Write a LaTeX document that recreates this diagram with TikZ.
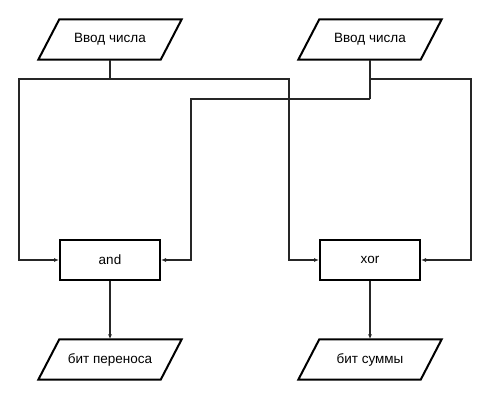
\documentclass[tikz,border=0pt]{standalone}
\usepackage{fontspec}
\setmainfont{Liberation Sans}
\usetikzlibrary{arrows.meta}
\tikzset{
  x=1pt, y=-1pt,
  io/.style={minimum width=122pt, minimum height=40pt, inner sep=0pt, font=\fontsize{13.5}{16}\selectfont},
  op/.style={draw, line width=2pt, minimum width=100pt, minimum height=40pt, inner sep=0pt, font=\fontsize{13.5}{16}\selectfont},
  conn/.style={line width=1.3pt, draw=black!85},
  arr/.style={conn, -{Latex[length=5pt,width=4pt]}},
  para/.style={line width=2pt, line join=miter}
}
\newcommand{\paral}[1]{%
  \draw[para] ([xshift=10.5pt]#1.north west) -- ([xshift=10.5pt]#1.north east)
    -- ([xshift=-10.5pt]#1.south east) -- ([xshift=-10.5pt]#1.south west) -- cycle;}
\begin{document}
\begin{tikzpicture}
\useasboundingbox (0,0) rectangle (490,400);
\node[io] (in1) at (110,39.5) {Ввод числа};
\node[io] (in2) at (370,39.5) {Ввод числа};
\node[op] (and) at (110,260) {and};
\node[op] (xor) at (370,260) {xor};
\node[io] (out1) at (110,359.5) {бит переноса};
\node[io] (out2) at (370,359.5) {бит суммы};
\paral{in1}\paral{in2}\paral{out1}\paral{out2}
\coordinate (j1) at (110,79);
\coordinate (j2) at (370,79);
\coordinate (j3) at (370,99);
\draw[conn] (in1.south) -- (j1);
\draw[arr] (j1) -| ([xshift=-40pt]and.west) -- (and.west);
\draw[arr] (j1) -| ([xshift=-30pt]xor.west) -- (xor.west);
\draw[conn] (in2.south) -- (j2) -- (j3);
\draw[arr] (j2) -| ([xshift=50pt]xor.east) -- (xor.east);
\draw[arr] (j3) -| ([xshift=30pt]and.east) -- (and.east);
\draw[arr] (and.south) -- (out1.north);
\draw[arr] (xor.south) -- (out2.north);
\end{tikzpicture}
\end{document}
